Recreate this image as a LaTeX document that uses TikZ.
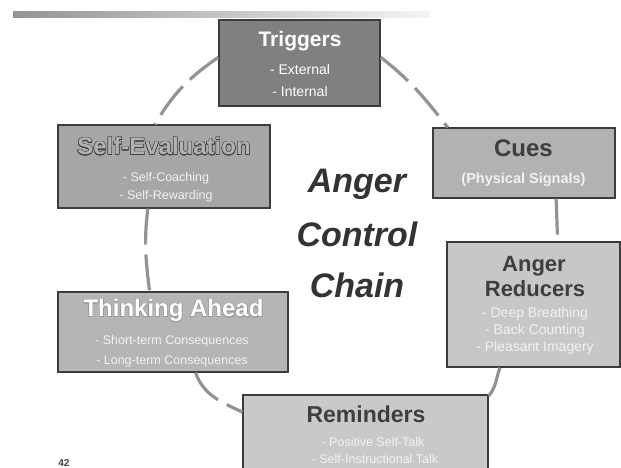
\documentclass[tikz,border=0pt]{standalone}
\usepackage{fontspec}
\setmainfont{Liberation Sans}
\usepackage{contour}
\contourlength{0.45pt}
\usetikzlibrary{calc}
\definecolor{boxline}{HTML}{3C3C3C}
\definecolor{darktext}{HTML}{3E3E3E}
\definecolor{subtext}{HTML}{F2F2F2}
\definecolor{linkgray}{HTML}{939393}
\tikzset{
  box/.style={draw=boxline, line width=1.2pt, inner sep=0pt},
  title/.style={anchor=base, inner sep=0pt, font=\fontsize{24}{28}\selectfont\bfseries},
  subline/.style={anchor=base, inner sep=0pt, text=subtext, font=\fontsize{12.5}{15}\selectfont},
  link/.style={draw=linkgray, line width=3.2pt, dash pattern=on 36pt off 10pt},
  center/.style={anchor=base, inner sep=0pt, text=black!80, font=\fontsize{34}{40}\selectfont\bfseries\itshape}
}
\begin{document}
\begin{tikzpicture}[x=1pt,y=1pt]
\useasboundingbox (0,0) rectangle (621,468);
\clip (0,0) rectangle (621,468);
% top bar
\shade[left color=black!42, right color=black!4] (13,450) rectangle (430,456);
% boxes
\node[box, fill=black!50, line width=1.5pt, minimum width=161pt, minimum height=86pt] (trig) at (299.5,405) {};
\node[box, fill=black!35, minimum width=212pt, minimum height=83pt] (selfev) at (164,301.5) {};
\node[box, fill=black!30, minimum width=182pt, minimum height=70pt] (cues) at (524,305) {};
\node[box, fill=black!22, minimum width=173pt, minimum height=125pt] (red) at (533.5,163.5) {};
\node[box, fill=black!29, minimum width=230pt, minimum height=80pt] (think) at (173,136) {};
\node[box, fill=black!21, minimum width=245pt, minimum height=82pt] (rem) at (365.5,32) {};
% texts
\node[title, text=white, font=\fontsize{21}{25}\selectfont\bfseries] (trigT) at (300,421) {Triggers};
\node[subline, text=white, font=\fontsize{14}{16}\selectfont] (trigA) at (300,393) {- External};
\node[subline, text=white, font=\fontsize{14}{16}\selectfont] (trigB) at (300,371) {- Internal};

\node[title, text=black!30] (selfT) at (164,313) {\contour{black!75}{Self-Evaluation}};
\node[subline] (selfA) at (166,286) {- Self-Coaching};
\node[subline] (selfB) at (166,268) {- Self-Rewarding};

\node[title, text=darktext] (cuesT) at (523.5,311) {Cues};
\node[subline, font=\fontsize{14.5}{16}\selectfont\bfseries] (cuesA) at (523.5,284) {(Physical Signals)};

\node[title, text=darktext, font=\fontsize{22}{26}\selectfont\bfseries] (redT) at (534,196) {Anger};
\node[title, text=darktext, font=\fontsize{22}{26}\selectfont\bfseries] (redU) at (535,171) {Reducers};
\node[subline, font=\fontsize{14}{16}\selectfont] (redA) at (535,150) {- Deep Breathing};
\node[subline, font=\fontsize{14}{16}\selectfont] (redB) at (535,133) {- Back Counting};
\node[subline, font=\fontsize{14}{16}\selectfont] (redC) at (535,116) {- Pleasant Imagery};

\node[title, text=white] (thinkT) at (173.5,151) {\contour{black!40}{Thinking Ahead}};
\node[subline] (thinkA) at (172,123) {- Short-term Consequences};
\node[subline] (thinkB) at (172,103) {- Long-term Consequences};

\node[title, text=darktext, font=\fontsize{23}{27}\selectfont\bfseries] (remT) at (366,45) {Reminders};
\node[subline] (remA) at (373,21) {- Positive Self-Talk};
\node[subline] (remB) at (375,4) {- Self-Instructional Talk};

\node[center] (cA) at (357,275) {Anger};
\node[center] (cB) at (357,221) {Control};
\node[center] (cC) at (357,170) {Chain};

\node[anchor=base, inner sep=0pt, text=black!75, font=\fontsize{10}{12}\selectfont\bfseries] (pagenum) at (64,1.5) {42};

% connectors
\draw[link] (trig.176) to[out=215,in=60] (selfev.102);
\draw[link] (trig.4) to[out=-38,in=128] (cues.155);
\draw[link] (cues.-48) to[out=-87,in=93] (red.69);
\draw[link] (selfev.-111) to[out=-97,in=97] (think.120);
\draw[link] (think.-61) to[out=-70,in=155] (rem.169);
\draw[link] (rem.18) to[out=50,in=-110] (red.-118);
\end{tikzpicture}
\end{document}
